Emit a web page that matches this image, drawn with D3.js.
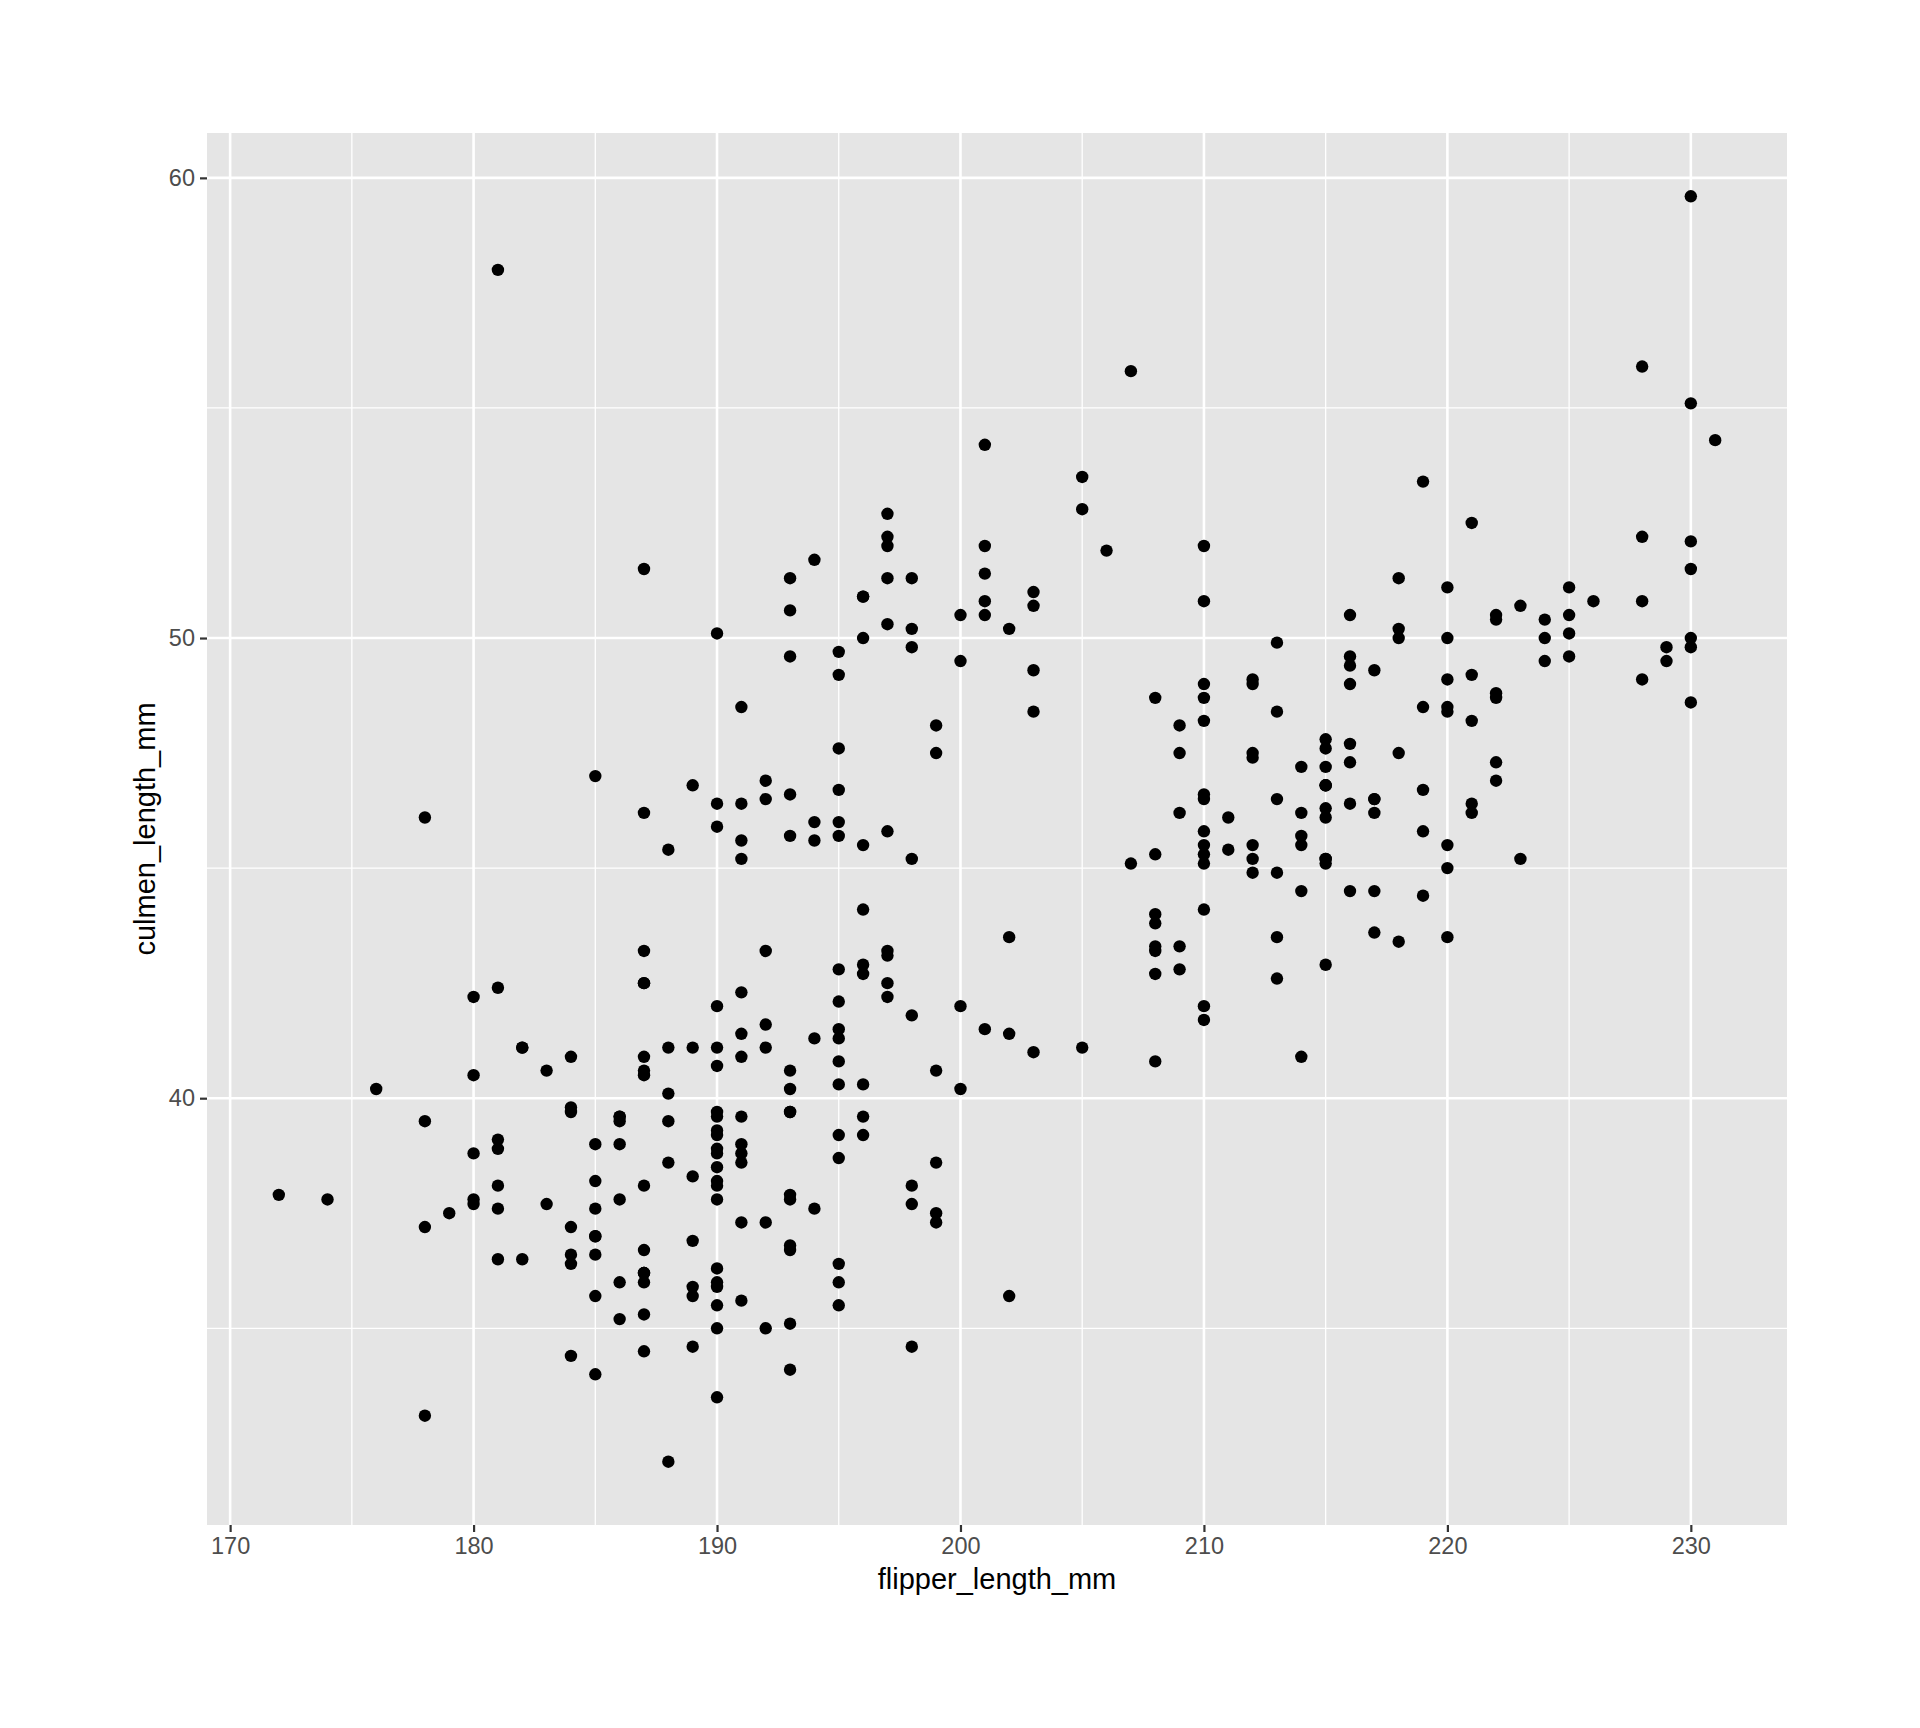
<!DOCTYPE html>
<html>
<head>
<meta charset="utf-8">
<script src="https://cdn.jsdelivr.net/npm/d3@7"></script>
<style>
  body { margin: 0; background: #fff; }
  svg { display: block; font-family: "Liberation Sans", Arial, sans-serif; }
</style>
</head>
<body>
<div id="chart"></div>
<script>
// flipper_length_mm, culmen_length_mm por especie
const adelieFlipper = [181,186,195,193,190,181,195,193,190,186,180,182,191,198,185,195,197,184,194,
  174,180,189,185,180,187,183,187,172,180,178,178,188,184,195,196,190,180,181,184,182,195,186,196,185,190,182,179,190,191,
  186,188,190,200,187,191,186,193,181,194,185,195,185,192,184,192,195,188,
  190,198,190,190,196,197,190,195,191,184,187,195,189,196,187,193,
  191,194,190,189,189,190,202,205,185,186,187,208,190,196,178,192,
  192,203,183,190,193,184,199,190,181,197,198,191,193,197,191,196,
  188,199,189,189,187,198,176,202,186,199,191,195,191,210,190,197,
  193,199,187,190,191,200,185,193,193,187,188,190,192,185,190,184,195,193,187,201];
const adelieCulmen = [39.1,39.5,40.3,36.7,39.3,38.9,39.2,34.1,42.0,37.8,37.8,41.1,38.6,34.6,36.6,38.7,42.5,34.4,46.0,
  37.8,37.7,35.9,38.2,38.8,35.3,40.6,40.5,37.9,40.5,39.5,37.2,39.5,40.9,36.4,39.2,38.8,42.2,37.6,39.8,36.5,40.8,36.0,44.1,37.0,39.6,41.1,37.5,36.0,42.3,
  39.6,40.1,35.0,42.0,34.5,41.4,39.0,40.6,36.5,37.6,35.7,41.3,37.6,41.1,36.4,41.6,35.5,41.1,
  35.9,41.8,33.5,39.7,39.6,45.8,35.5,42.8,40.9,37.2,36.2,42.1,34.6,42.9,36.7,35.1,
  37.3,41.3,36.3,36.9,38.3,38.9,35.7,41.1,34.0,39.6,36.2,40.8,38.1,40.3,33.1,43.2,
  35.0,41.0,37.7,37.8,37.9,39.7,38.6,38.2,38.1,43.2,38.1,45.6,39.7,42.2,39.6,42.7,
  38.6,37.3,35.7,41.1,36.2,37.7,40.2,41.4,35.2,40.6,38.8,41.5,39.0,44.1,38.5,43.1,
  36.8,37.5,38.1,41.1,35.6,40.2,37.0,39.7,40.2,40.6,32.1,40.7,37.3,39.0,39.2,36.6,36.0,37.8,36.0,41.5];

const gentooFlipper = [211,230,210,218,215,210,211,219,209,215,214,216,214,213,210,217,210,221,209,222,
  218,215,213,215,215,215,216,215,210,220,222,209,207,230,220,220,213,219,208,208,
  208,225,210,216,222,217,210,225,213,215,210,220,210,225,217,220,208,220,208,224,
  208,221,214,231,219,230,214,229,220,223,216,221,221,217,216,230,209,220,215,223,
  212,221,212,224,212,228,218,218,212,230,218,228,212,224,214,226,216,222,203,225,
  219,228,215,228,216,215,210,219,208,209,216,229,213,230,217,230,217,222,214,215,222,212,213];
const gentooCulmen = [46.1,50.0,48.7,50.0,47.6,46.5,45.4,46.7,43.3,46.8,40.9,49.0,45.5,48.4,45.8,49.3,42.0,49.2,46.2,48.7,
  50.2,45.1,46.5,46.3,42.9,46.1,44.5,47.8,48.2,50.0,47.3,42.8,45.1,59.6,49.1,48.4,42.6,44.4,44.0,48.7,
  42.7,49.6,45.3,49.6,50.5,43.6,45.5,50.5,44.9,45.2,46.6,48.5,45.1,50.1,46.5,45.0,43.8,45.5,43.2,50.4,
  45.3,46.2,45.7,54.3,45.8,49.8,46.2,49.5,43.5,50.7,47.7,46.4,48.2,46.5,46.4,48.6,47.5,51.1,45.2,45.2,
  49.1,52.5,47.4,50.0,44.9,50.8,43.4,51.3,47.5,52.1,47.5,52.2,45.5,49.5,44.5,50.8,49.4,46.9,48.4,51.1,
  48.5,55.9,47.2,49.1,47.3,46.8,41.7,53.4,43.3,48.1,50.5,49.8,43.5,51.5,46.2,55.1,44.5,48.8,47.2,46.8,50.4,45.2,49.9];

const chinstrapFlipper = [192,196,193,188,197,198,178,197,195,198,193,194,185,201,190,201,197,181,190,195,
  181,191,187,193,195,197,200,200,191,205,187,201,187,203,195,199,195,210,192,205,
  210,187,196,196,196,201,190,212,187,198,199,201,193,203,187,197,191,203,202,194,
  206,189,195,207,202,193,210,198];
const chinstrapCulmen = [46.5,50.0,51.3,45.4,52.7,45.2,46.1,51.3,46.0,51.3,46.6,51.7,47.0,52.0,45.9,50.5,50.3,58.0,46.4,49.2,
  42.4,48.5,43.2,50.6,46.7,52.0,50.5,49.5,46.4,52.8,40.9,54.2,42.5,51.0,49.7,47.5,47.6,52.0,46.9,53.5,
  49.0,46.2,50.9,45.5,50.9,50.8,50.1,49.0,51.5,49.8,48.1,51.4,45.7,50.7,42.5,52.2,45.2,49.3,50.2,45.6,
  51.9,46.8,45.7,55.8,43.5,49.6,50.8,50.2];

const xTicks = [170, 180, 190, 200, 210, 220, 230];
const yTicks = [40, 50, 60];

const W = 1920, H = 1728;
const panel = {left: 207, top: 133, right: 1787, bottom: 1525};

const points = [];
[[adelieFlipper, adelieCulmen], [gentooFlipper, gentooCulmen], [chinstrapFlipper, chinstrapCulmen]]
  .forEach(([fx, cy]) => fx.forEach((f, i) => points.push({x: f, y: cy[i]})));

// escalas con la expansión del 5% de ggplot
const xExt = d3.extent(points, d => d.x), yExt = d3.extent(points, d => d.y);
const xPad = (xExt[1] - xExt[0]) * 0.05, yPad = (yExt[1] - yExt[0]) * 0.05;
const x = d3.scaleLinear().domain([xExt[0] - xPad, xExt[1] + xPad]).range([panel.left, panel.right]);
const y = d3.scaleLinear().domain([yExt[0] - yPad, yExt[1] + yPad]).range([panel.bottom, panel.top]);

const svg = d3.select("#chart").append("svg").attr("width", W).attr("height", H);

svg.append("rect")
  .attr("x", panel.left).attr("y", panel.top)
  .attr("width", panel.right - panel.left).attr("height", panel.bottom - panel.top)
  .attr("fill", "#E5E5E5");

// rejilla menor y mayor
const xMinor = xTicks.slice(0, -1).map(t => t + 5).concat([xTicks[0] - 5]).filter(t => t >= x.domain()[0]);
const yMinor = [yTicks[0] - 5].concat(yTicks.map(t => t + 5)).filter(t => t >= y.domain()[0] && t <= y.domain()[1]);

const grid = svg.append("g");
grid.selectAll(".vminor").data(xMinor).enter().append("line")
  .attr("x1", d => x(d)).attr("x2", d => x(d)).attr("y1", panel.top).attr("y2", panel.bottom)
  .attr("stroke", "#fff").attr("stroke-width", 1.3);
grid.selectAll(".hminor").data(yMinor).enter().append("line")
  .attr("y1", d => y(d)).attr("y2", d => y(d)).attr("x1", panel.left).attr("x2", panel.right)
  .attr("stroke", "#fff").attr("stroke-width", 1.3);
grid.selectAll(".vmajor").data(xTicks).enter().append("line")
  .attr("x1", d => x(d)).attr("x2", d => x(d)).attr("y1", panel.top).attr("y2", panel.bottom)
  .attr("stroke", "#fff").attr("stroke-width", 2.6);
grid.selectAll(".hmajor").data(yTicks).enter().append("line")
  .attr("y1", d => y(d)).attr("y2", d => y(d)).attr("x1", panel.left).attr("x2", panel.right)
  .attr("stroke", "#fff").attr("stroke-width", 2.6);

// puntos
svg.append("g").selectAll("circle").data(points).enter().append("circle")
  .attr("cx", d => x(d.x)).attr("cy", d => y(d.y)).attr("r", 6.2)
  .attr("fill", "#000");

// ejes
const xAxis = svg.append("g").attr("transform", `translate(0,${panel.bottom})`)
  .call(d3.axisBottom(x).tickValues(xTicks).tickSize(7).tickPadding(5));
const yAxis = svg.append("g").attr("transform", `translate(${panel.left},0)`)
  .call(d3.axisLeft(y).tickValues(yTicks).tickSize(7).tickPadding(5));
[xAxis, yAxis].forEach(a => {
  a.select(".domain").remove();
  a.selectAll(".tick line").attr("stroke", "#333").attr("stroke-width", 2.2);
  a.selectAll(".tick text").attr("fill", "#4D4D4D")
    .style("font-size", "23.5px").style("font-family", "'Liberation Sans', Arial, sans-serif");
});

svg.append("text")
  .attr("x", (panel.left + panel.right) / 2).attr("y", 1589)
  .attr("text-anchor", "middle").attr("fill", "#000")
  .style("font-size", "29px")
  .text("flipper_length_mm");

svg.append("text")
  .attr("transform", `translate(155,${(panel.top + panel.bottom) / 2}) rotate(-90)`)
  .attr("text-anchor", "middle").attr("fill", "#000")
  .style("font-size", "29px")
  .text("culmen_length_mm");
</script>
</body>
</html>
